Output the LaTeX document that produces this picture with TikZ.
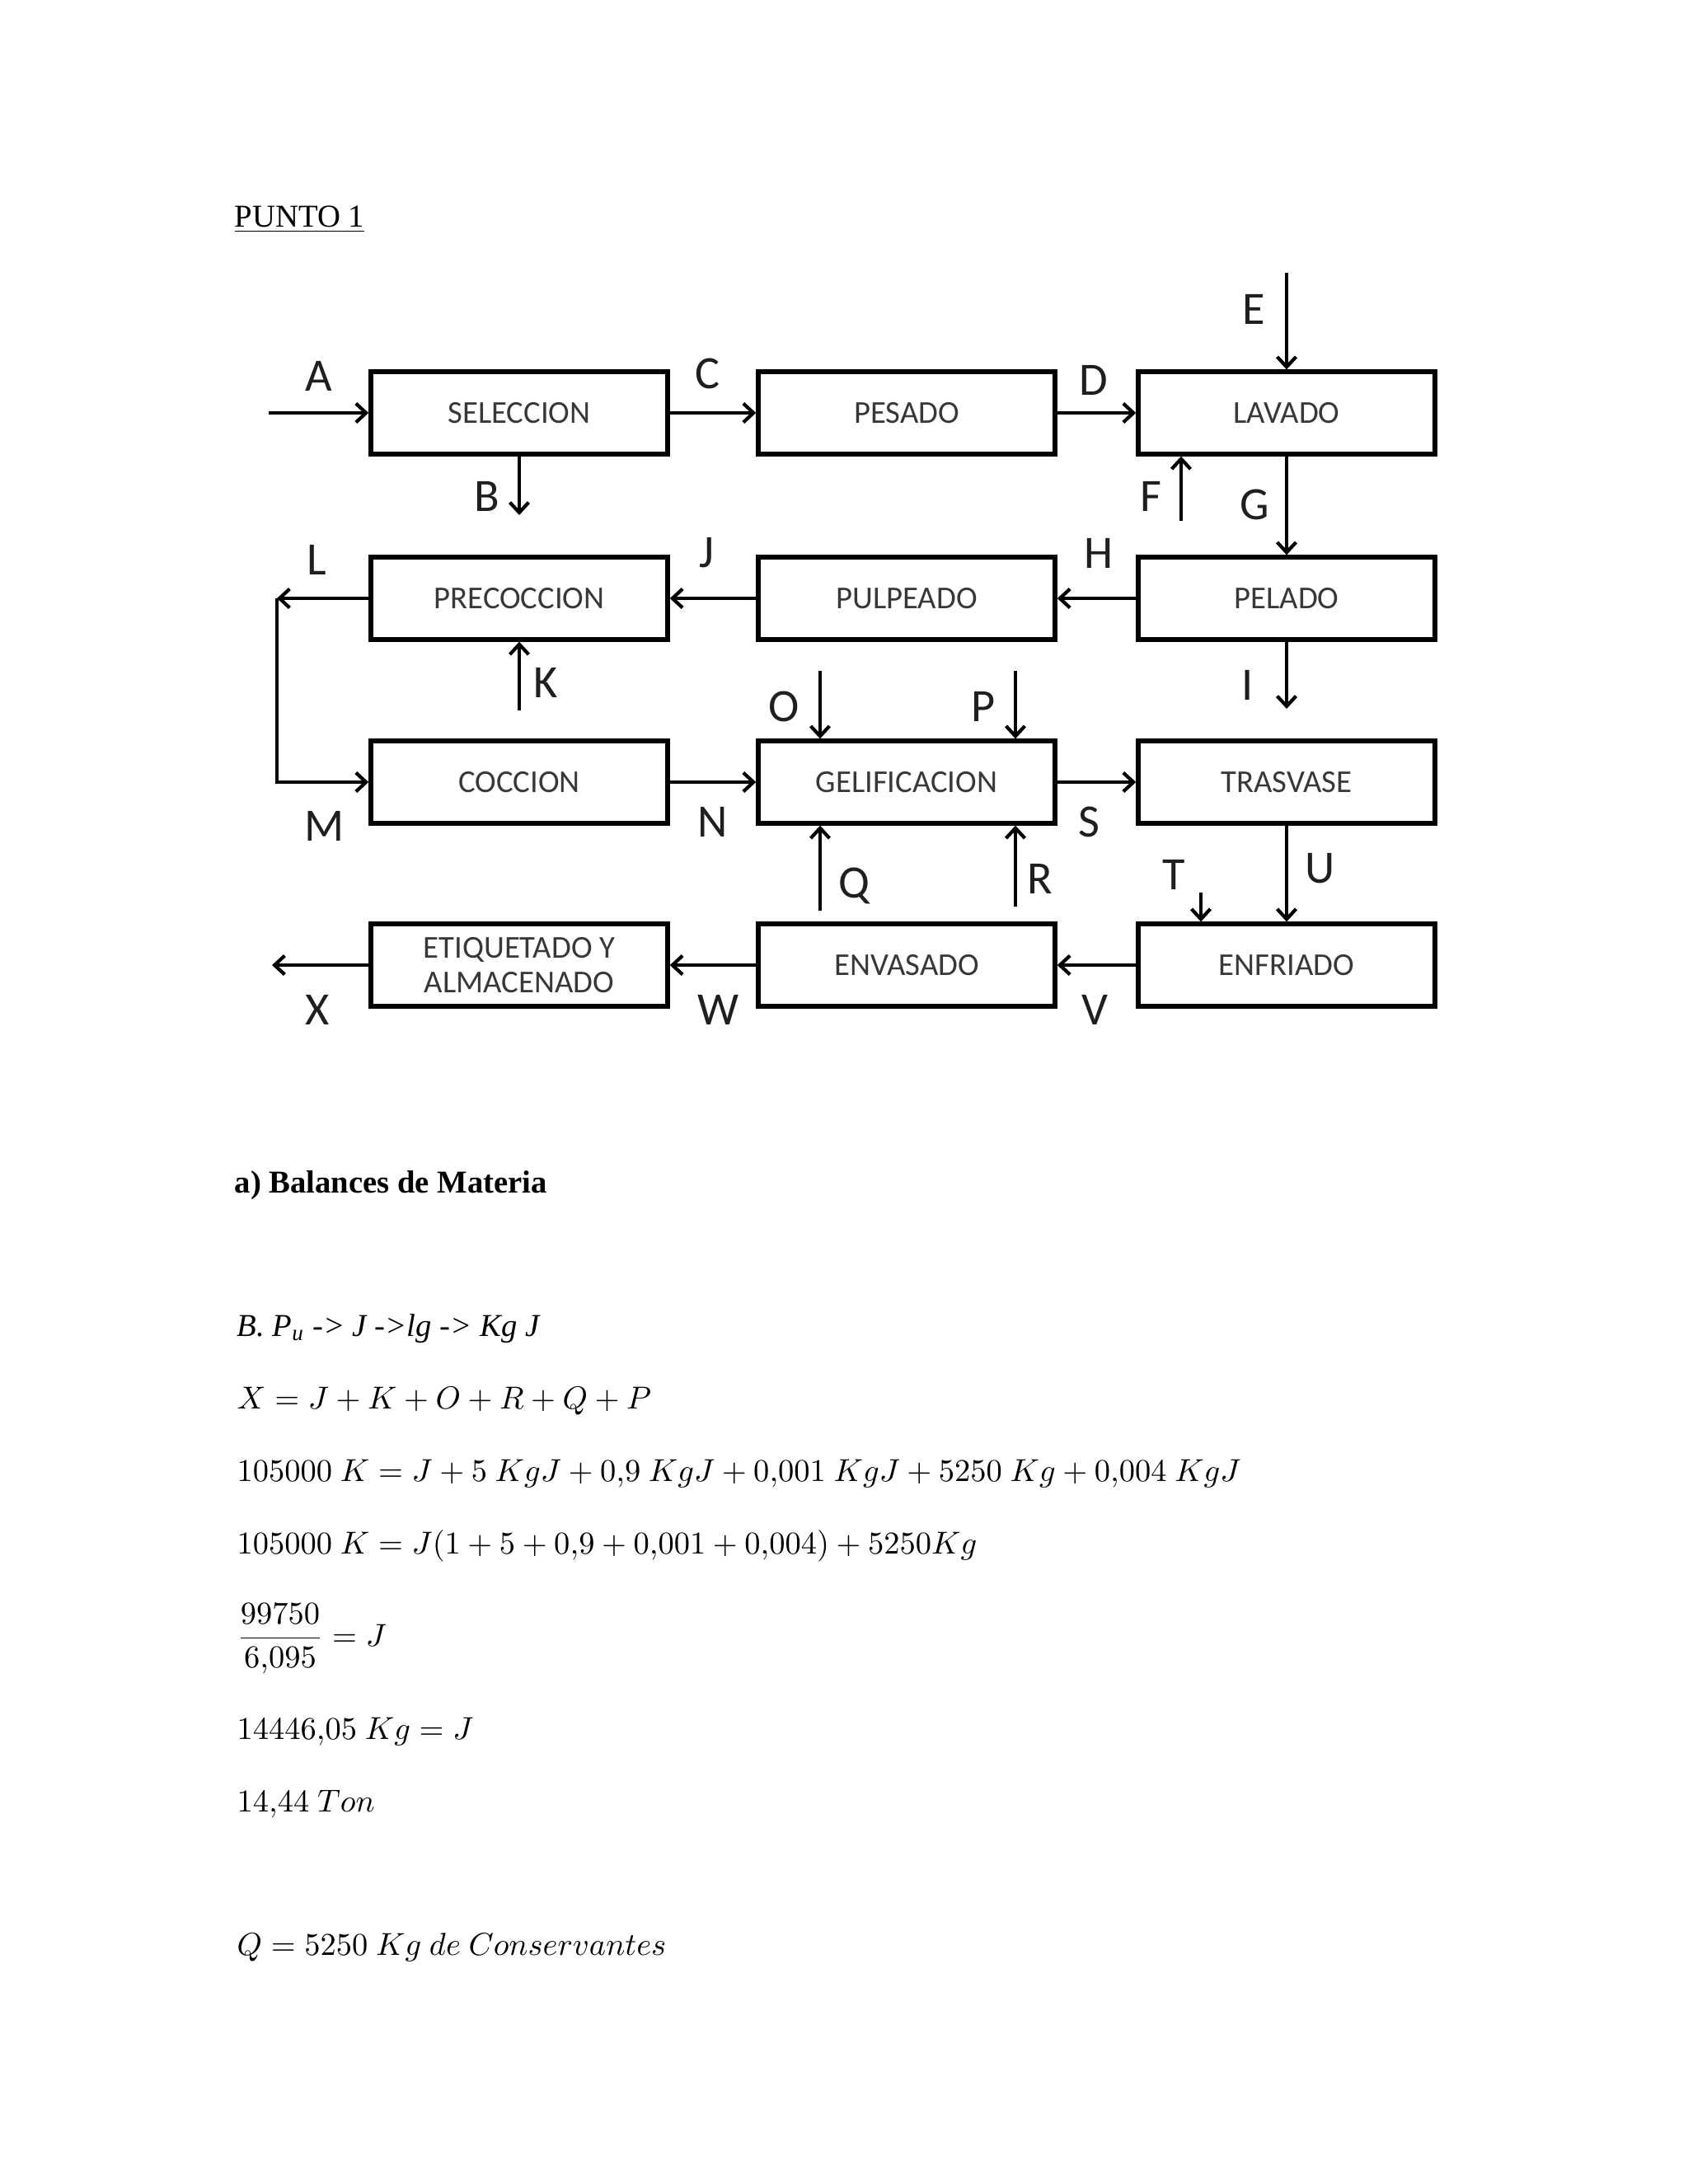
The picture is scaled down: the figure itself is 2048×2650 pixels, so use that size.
\documentclass[tikz,border=0pt]{standalone}
\usepackage{fontspec}
\setmainfont{Liberation Serif}
\newfontfamily\diafont{Carlito}
\usetikzlibrary{arrows.meta}
\begin{document}
\begin{tikzpicture}[x=0.01cm,y=-0.01cm,
  box/.style={draw=black, line width=1.5pt, minimum width=3.6cm, minimum height=1.0cm, inner sep=0pt,
    font=\diafont\fontsize{11}{13}\selectfont, text=black!78, align=center},
  flow/.style={line width=1.2pt, -{Straight Barb[length=3.5pt,width=6.5pt,line width=1.2pt]}},
  lbl/.style={font=\diafont\fontsize{16}{18}\selectfont, text=black!88, inner sep=0pt},
  txt/.style={anchor=base west, inner sep=0pt, font=\fontsize{11}{14}\selectfont},
  eq/.style={anchor=base west, inner sep=0pt, font=\fontsize{11}{14}\selectfont}]
\useasboundingbox[fill=white] (0,0) rectangle (2048,2650);

% heading
\node[txt] (punto) at (284,275) {\underline{PUNTO 1}};

% boxes
\node[box] (sel) at (630,501) {SELECCION};
\node[box] (pes) at (1100,501) {PESADO};
\node[box] (lav) at (1561,501) {LAVADO};
\node[box] (pre) at (630,726) {PRECOCCION};
\node[box] (pul) at (1100,726) {PULPEADO};
\node[box] (pel) at (1561,726) {PELADO};
\node[box] (coc) at (630,949) {COCCION};
\node[box] (gel) at (1100,949) {GELIFICACION};
\node[box] (tra) at (1561,949) {TRASVASE};
\node[box] (eti) at (630,1171) {ETIQUETADO Y\\[-1pt]ALMACENADO};
\node[box] (env) at (1100,1171) {ENVASADO};
\node[box] (enf) at (1561,1171) {ENFRIADO};

% free ends
\coordinate (a0) at (326,501);
\coordinate (b1) at (630,625);
\coordinate (e0) at (1561,331);
\coordinate (f0) at (1433,632);
\coordinate (lc) at (336,726);
\coordinate (k0) at (630,862);
\coordinate (i1) at (1561,860);
\coordinate (o0) at (995,814);
\coordinate (p0) at (1232,814);
\coordinate (q0) at (995,1105);
\coordinate (r0) at (1232,1100);
\coordinate (t0) at (1457,1083);
\coordinate (x1) at (330,1171);

% connectors
\draw[flow] (a0) -- (sel.west);
\draw[flow] (sel.east) -- (pes.west);
\draw[flow] (pes.east) -- (lav.west);
\draw[flow] (e0) -- (lav.north);
\draw[flow] (sel.south) -- (b1);
\draw[flow] (f0) -- (lav.south -| f0);
\draw[flow] (lav.south) -- (pel.north);
\draw[flow] (pel.west) -- (pul.east);
\draw[flow] (pul.west) -- (pre.east);
\draw[flow] (pre.west) -- (lc);
\draw[flow] (lc) |- (coc.west);
\draw[flow] (k0) -- (pre.south);
\draw[flow] (pel.south) -- (i1);
\draw[flow] (coc.east) -- (gel.west);
\draw[flow] (gel.east) -- (tra.west);
\draw[flow] (o0) -- (gel.north -| o0);
\draw[flow] (p0) -- (gel.north -| p0);
\draw[flow] (q0) -- (gel.south -| q0);
\draw[flow] (r0) -- (gel.south -| r0);
\draw[flow] (tra.south) -- (enf.north);
\draw[flow] (t0) -- (enf.north -| t0);
\draw[flow] (enf.west) -- (env.east);
\draw[flow] (env.west) -- (eti.east);
\draw[flow] (eti.west) -- (x1);

% stream labels
\node[lbl] (lA) at (387,456) {A};
\node[lbl] (lB) at (591,602) {B};
\node[lbl] (lC) at (858,453) {C};
\node[lbl] (lD) at (1327,461) {D};
\node[lbl] (lE) at (1521,375) {E};
\node[lbl] (lF) at (1396,602) {F};
\node[lbl] (lG) at (1522,612) {G};
\node[lbl] (lH) at (1333,671) {H};
\node[lbl] (lI) at (1514,831) {I};
\node[lbl] (lJ) at (857,671) {J};
\node[lbl] (lK) at (662,828) {K};
\node[lbl] (lL) at (384,679) {L};
\node[lbl] (lM) at (394,1002) {M};
\node[lbl] (lN) at (865,997) {N};
\node[lbl] (lO) at (951,857) {O};
\node[lbl] (lP) at (1193,857) {P};
\node[lbl] (lQ) at (1036,1075) {Q};
\node[lbl] (lR) at (1262,1066) {R};
\node[lbl] (lS) at (1321,997) {S};
\node[lbl] (lT) at (1424,1061) {T};
\node[lbl] (lU) at (1602,1054) {U};
\node[lbl] (lV) at (1328,1225) {V};
\node[lbl] (lW) at (872,1225) {W};
\node[lbl] (lX) at (385,1225) {X};

% text
\node[txt] (bal) at (284,1447) {\textbf{a) Balances de Materia}};
\node[txt] (t1) at (287,1621) {\textit{B. P\textsubscript{u} -> J ->lg -> Kg J}};
\node[eq] (t2) at (287,1709) {$X = J + K + O + R + Q + P$};
\node[eq] (t3) at (287,1797) {$105000\ K = J + 5\ KgJ + 0{,}9\ KgJ + 0{,}001\ KgJ + 5250\ Kg + 0{,}004\ KgJ$};
\node[eq] (t4) at (287,1885) {$105000\ K = J(1 + 5 + 0{,}9 + 0{,}001 + 0{,}004) + 5250Kg$};
\node[eq] (t5) at (287,1997) {$\displaystyle\frac{99750}{6{,}095} = J$};
\node[eq] (t6) at (287,2110) {$14446{,}05\ Kg = J$};
\node[eq] (t7) at (287,2198) {$14{,}44\ Ton$};
\node[eq] (t8) at (287,2372) {$Q = 5250\ Kg\ de\ Conservantes$};
\end{tikzpicture}
\end{document}
